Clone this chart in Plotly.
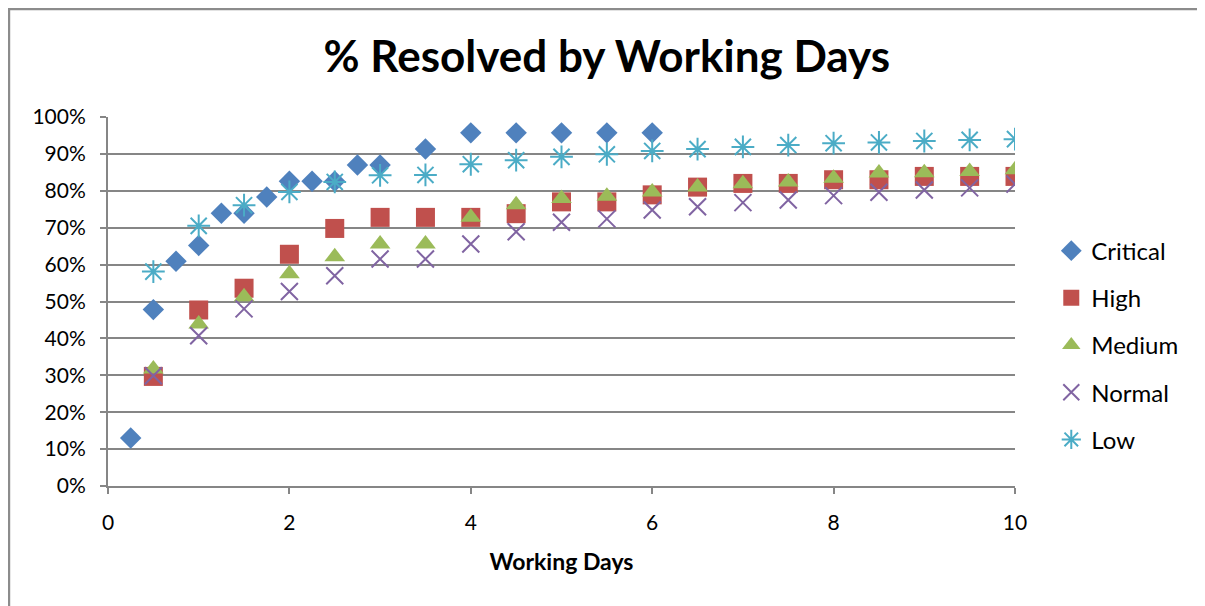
import plotly.graph_objects as go

days = [0.25, 0.5, 0.75, 1, 1.25, 1.5, 1.75, 2, 2.25, 2.5, 2.75, 3, 3.5, 4, 4.5, 5, 5.5, 6]
critical = [0.130, 0.478, 0.609, 0.652, 0.739, 0.739, 0.783, 0.826, 0.826, 0.826, 0.870, 0.870,
            0.913, 0.957, 0.957, 0.957, 0.957, 0.957]

half_days = [0.5, 1, 1.5, 2, 2.5, 3, 3.5, 4, 4.5, 5, 5.5, 6, 6.5, 7, 7.5, 8, 8.5, 9, 9.5, 10]
high = [0.297, 0.477, 0.536, 0.628, 0.698, 0.728, 0.728, 0.728, 0.738, 0.770, 0.770, 0.789,
        0.810, 0.820, 0.820, 0.830, 0.830, 0.839, 0.839, 0.839]
medium = [0.317, 0.439, 0.513, 0.575, 0.621, 0.656, 0.656, 0.728, 0.762, 0.779, 0.785, 0.797,
          0.810, 0.819, 0.824, 0.834, 0.848, 0.849, 0.852, 0.857]
normal = [0.299, 0.407, 0.480, 0.527, 0.570, 0.615, 0.615, 0.656, 0.689, 0.715, 0.724, 0.748,
          0.757, 0.768, 0.775, 0.787, 0.796, 0.802, 0.808, 0.818]
low = [0.581, 0.705, 0.761, 0.797, 0.824, 0.842, 0.843, 0.872, 0.883, 0.892, 0.899, 0.908,
       0.913, 0.919, 0.924, 0.929, 0.931, 0.935, 0.938, 0.940]

FONT = "Lato"
GRID = "#868686"

fig = go.Figure()

series = [
    ("Critical", days, critical, dict(symbol="diamond", size=16.5, color="#4F81BD")),
    ("High", half_days, high, dict(symbol="square", size=19, color="#C0504D")),
    ("Medium", half_days, medium, dict(symbol="triangle-up", size=18, color="#9BBB59")),
    ("Normal", half_days, normal, dict(symbol="x-thin-open", size=17,
                                        line=dict(color="#8064A2", width=2), color="#8064A2")),
    ("Low", half_days, low, dict(symbol="asterisk-open", size=19,
                                  line=dict(color="#4BACC6", width=2), color="#4BACC6")),
]

for name, xs, ys, marker in series:
    fig.add_trace(go.Scatter(x=xs, y=ys, name=name, mode="markers", marker=marker,
                             legendgroup=name))

# the page adds an 8px body margin, so margins are offset by that amount
fig.update_layout(
    width=1205, height=606,
    plot_bgcolor="white", paper_bgcolor="white",
    margin=dict(l=100, r=198, t=109, b=128),
    font=dict(family=FONT, color="black"),
    title=dict(text="<b>% Resolved by Working Days</b>", x=0.497, xanchor="center",
               y=0.92, yanchor="middle", font=dict(size=44, family=FONT)),
    legend=dict(x=1.04, xanchor="left", y=0.382, yanchor="middle", font=dict(size=24),
                tracegroupgap=13, itemwidth=30),
    xaxis=dict(range=[0, 10], dtick=2, showgrid=False, zeroline=False,
               showline=True, linecolor=GRID, linewidth=2,
               ticks="outside", ticklen=6, tickcolor=GRID, tickwidth=2,
               ticklabelstandoff=11,
               tickfont=dict(size=21), title=dict(text="<b>Working Days</b>",
                                                   font=dict(size=23), standoff=21)),
    yaxis=dict(range=[0, 1], dtick=0.1, tickformat=".0%", showgrid=True, gridcolor=GRID,
               gridwidth=2, zeroline=False, showline=True, linecolor=GRID, linewidth=2,
               ticks="outside", ticklen=6, tickcolor=GRID, tickwidth=2,
               ticklabelstandoff=10, tickfont=dict(size=21)),
)

# chart border (runs past the right and bottom edges)
fig.add_shape(type="rect", xref="paper", yref="paper",
              x0=-0.1092, x1=1.3, y0=-0.5, y1=1.293,
              line=dict(color="#8C8C8C", width=2.5), layer="below")

fig.write_html("out.html")
